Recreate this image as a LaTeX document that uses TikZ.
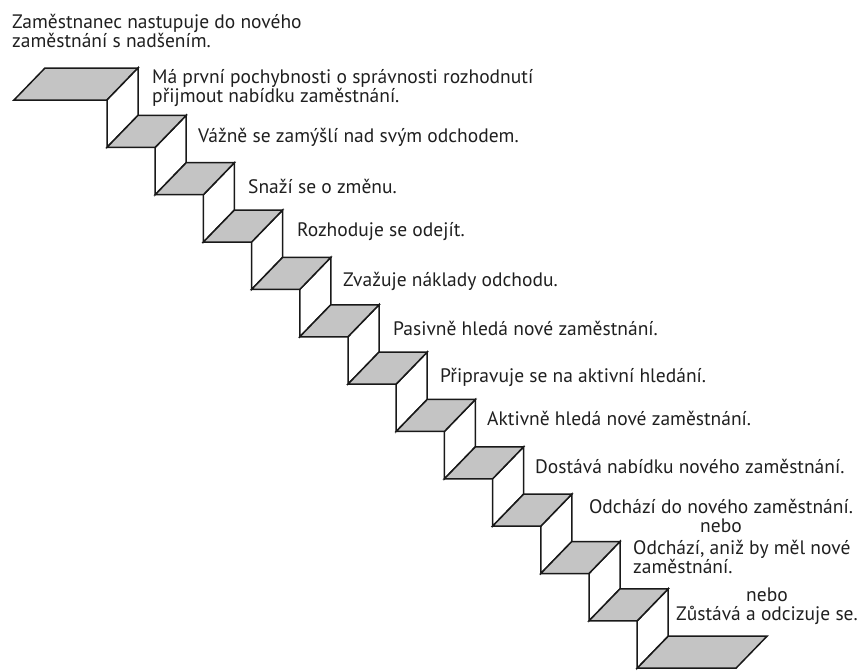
\documentclass[tikz,border=0pt]{standalone}
\usepackage{fontspec}
\setmainfont{PT Sans}
\usetikzlibrary{positioning}

\begin{document}
\begin{tikzpicture}[x=1pt,y=-1pt,
    every node/.style={font=\fontsize{19.5}{19.5}\selectfont,text=black!88,inner sep=0pt,align=left},
    tread/.style={draw=black!90,fill=black!23,line width=1.5pt},
    riser/.style={draw=black!90,fill=white,line width=1.5pt}]
  \useasboundingbox (0,0) rectangle (862,670);
  % top landing
  \draw[tread] (45,68) -- (138,68) -- (107,100) -- (14,100) -- cycle;
  % risers
  \foreach \k in {0,...,11}{
    \pgfmathsetmacro{\bx}{138+48.2*\k}
    \pgfmathsetmacro{\by}{68+47.35*\k}
    \draw[riser] (\bx-31,\by+32) -- (\bx,\by) -- (\bx,\by+47.35) -- (\bx-31,\by+79.35) -- cycle;
  }
  % treads
  \foreach \k in {1,...,11}{
    \pgfmathsetmacro{\bx}{138+48.2*\k}
    \pgfmathsetmacro{\by}{68+47.35*\k}
    \draw[tread] (\bx-48.2,\by) -- (\bx,\by) -- (\bx-31,\by+32) -- (\bx-79.2,\by+32) -- cycle;
  }
  % bottom landing
  \draw[tread] (668.2,636.2) -- (767,636.2) -- (736,668.2) -- (637.2,668.2) -- cycle;

  \node[anchor=west] (start) at (12,31) {Zaměstnanec nastupuje do nového\\zaměstnání s nadšením.};
  \node[anchor=west] (doubt) at (152,88) {Má první pochybnosti o správnosti rozhodnutí\\přijmout nabídku zaměstnání.};
  \node[anchor=west] (think) at (198,137) {Vážně se zamýšlí nad svým odchodem.};
  \node[anchor=west] (change) at (248,186) {Snaží se o změnu.};
  \node[anchor=west] (decide) at (297,232) {Rozhoduje se odejít.};
  \node[anchor=west] (cost) at (343,281) {Zvažuje náklady odchodu.};
  \node[anchor=west] (passive) at (393,328) {Pasivně hledá nové zaměstnání.};
  \node[anchor=west] (prepare) at (440,377) {Připravuje se na aktivní hledání.};
  \node[anchor=west] (active) at (487,418) {Aktivně hledá nové zaměstnání.};
  \node[anchor=west] (offer) at (535,466) {Dostává nabídku nového zaměstnání.};
  \node[align=center] (leave) at (721,516) {Odchází do nového zaměstnání.\\nebo};
  \node[anchor=west] (quit) at (633,557) {Odchází, aniž by měl nové\\zaměstnání.};
  \node[align=center] (stay) at (767,606) {nebo\\Zůstává a odcizuje se.};
\end{tikzpicture}
\end{document}
